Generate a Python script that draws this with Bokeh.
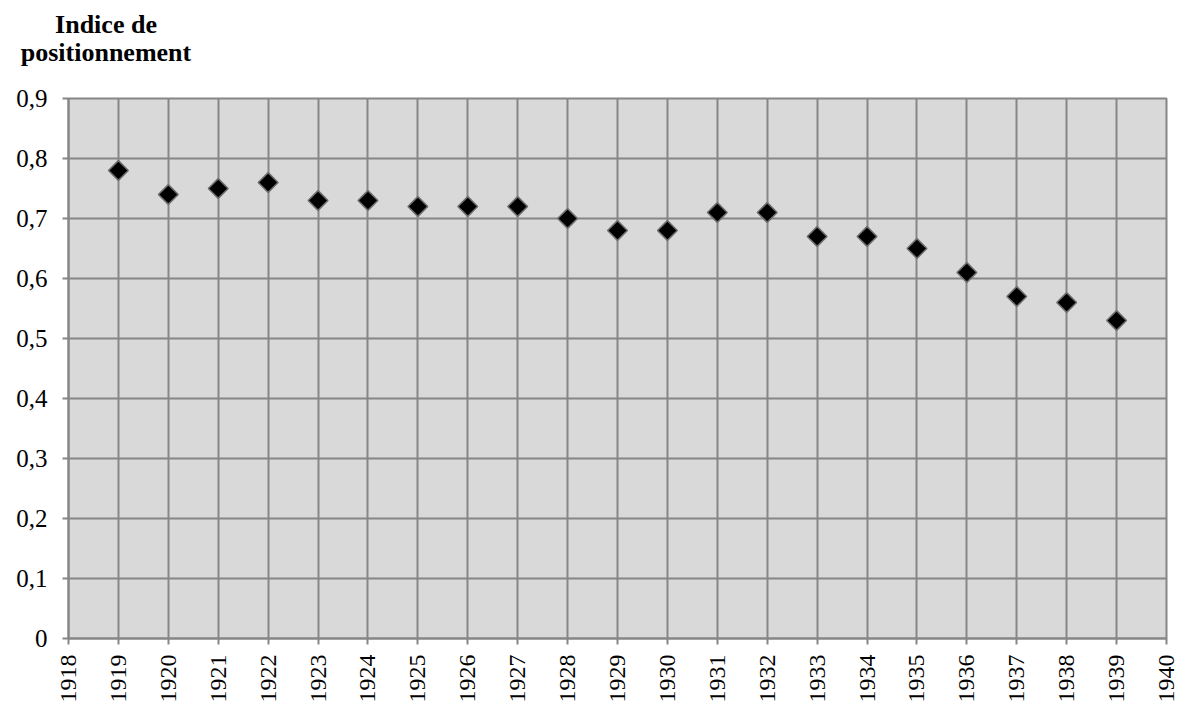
import math
from bokeh.plotting import figure
from bokeh.layouts import column
from bokeh.models import FixedTicker, Div, Range1d
from bokeh.embed import file_html
from bokeh.resources import INLINE

years = [1919, 1920, 1921, 1922, 1923, 1924, 1925, 1926, 1927, 1928, 1929,
         1930, 1931, 1932, 1933, 1934, 1935, 1936, 1937, 1938, 1939]
indice = [0.78, 0.74, 0.75, 0.76, 0.73, 0.73, 0.72, 0.72, 0.72, 0.70, 0.68,
          0.68, 0.71, 0.71, 0.67, 0.67, 0.65, 0.61, 0.57, 0.56, 0.53]
x_ticks = list(range(1918, 1941))
y_ticks = [0, 0.1, 0.2, 0.3, 0.4, 0.5, 0.6, 0.7, 0.8, 0.9]
y_labels = ["0", "0,1", "0,2", "0,3", "0,4", "0,5", "0,6", "0,7", "0,8", "0,9"]
title_lines = ["Indice de", "positionnement"]

FONT = "'Liberation Serif'"
GRID = "#868686"

p = figure(width=1180, height=635, output_backend="svg", toolbar_location=None,
           x_range=Range1d(1918, 1940), y_range=Range1d(0, 0.9),
           min_border_left=68, min_border_top=28, min_border_right=14,
           min_border_bottom=67)
p.background_fill_color = "#D9D9D9"
p.border_fill_color = "white"
p.outline_line_color = GRID
p.outline_line_width = 2

p.xaxis.ticker = FixedTicker(ticks=x_ticks)
p.yaxis.ticker = FixedTicker(ticks=y_ticks)
p.yaxis.major_label_overrides = {t: l for t, l in zip(y_ticks, y_labels)}
p.xaxis.major_label_orientation = math.pi / 2
for ax in (p.xaxis, p.yaxis):
    ax.major_label_text_font = FONT
    ax.major_label_text_color = "black"
    ax.axis_line_color = GRID
    ax.axis_line_width = 2
    ax.major_tick_line_color = GRID
    ax.major_tick_line_width = 2
    ax.major_tick_out = 6
    ax.major_tick_in = 0
    ax.minor_tick_line_color = None
p.xaxis.major_label_standoff = 10
p.yaxis.major_label_standoff = 15
p.xaxis.major_label_text_font_size = "24px"
p.yaxis.major_label_text_font_size = "25px"

p.xgrid.ticker = FixedTicker(ticks=x_ticks)
p.ygrid.ticker = FixedTicker(ticks=y_ticks)
for g in (p.xgrid, p.ygrid):
    g.grid_line_color = GRID
    g.grid_line_width = 2

p.scatter(years, indice, marker="square", angle=math.pi / 4, size=14,
          fill_color="black", line_color="#6e6e6e", line_width=1.5)

title_div = Div(
    text="<br>".join(title_lines), width=212, height=70, margin=(0, 0, 0, 0),
    styles={"text-align": "center", "font-family": "'Liberation Serif', serif",
            "font-weight": "bold", "font-size": "26px", "line-height": "28px",
            "padding-top": "11px", "color": "black", "width": "212px"})

layout = column(title_div, p, spacing=0)

open("out.html", "w").write(file_html(layout, INLINE))
